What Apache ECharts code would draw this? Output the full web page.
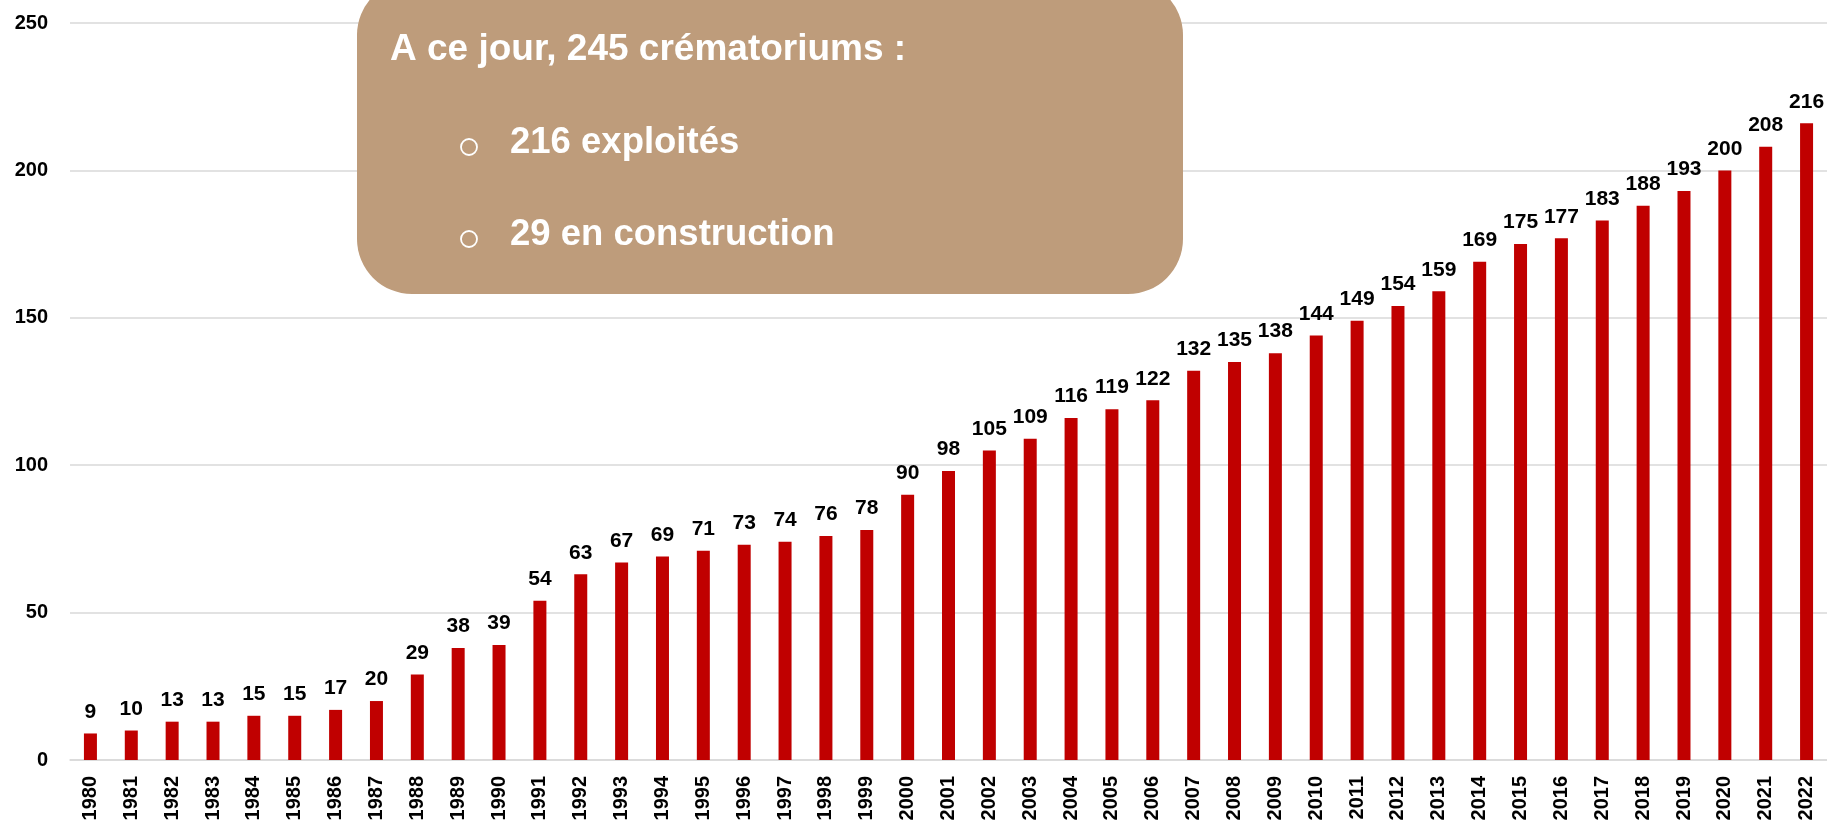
<!DOCTYPE html>
<html>
<head>
<meta charset="utf-8">
<script src="https://cdn.jsdelivr.net/npm/echarts@6/dist/echarts.min.js"></script>
<style>
html,body{margin:0;padding:0;background:#fff;}
#c{width:1827px;height:824px;}
</style>
</head>
<body>
<div id="c"></div>
<script>
const years = ['1980','1981','1982','1983','1984','1985','1986','1987','1988','1989','1990','1991','1992','1993','1994','1995','1996','1997','1998','1999','2000','2001','2002','2003','2004','2005','2006','2007','2008','2009','2010','2011','2012','2013','2014','2015','2016','2017','2018','2019','2020','2021','2022'];
const crematoriums = [9,10,13,13,15,15,17,20,29,38,39,54,63,67,69,71,73,74,76,78,90,98,105,109,116,119,122,132,135,138,144,149,154,159,169,175,177,183,188,193,200,208,216];
const yTicks = [0,50,100,150,200,250];
const noteTitle = 'A ce jour, 245 crématoriums :';
const noteItems = ['216 exploités','29 en construction'];

const FONT = '"Liberation Sans", Arial, sans-serif';
const chart = echarts.init(document.getElementById('c'), null, {renderer:'canvas'});
const itemY = [143, 235];
const graphics = [
  {type:'rect', z:100, shape:{x:357,y:-20,width:826,height:314,r:55}, style:{fill:'#BE9C7B'}},
  {type:'text', z:101, style:{x:390,y:50,text:noteTitle,fill:'#fff',font:'bold 37px '+FONT,verticalAlign:'middle'}}
];
noteItems.forEach((t,i)=>{
  graphics.push({type:'circle', z:101, shape:{cx:469,cy:itemY[i]+4,r:8}, style:{fill:'none',stroke:'#fff',lineWidth:1.8}});
  graphics.push({type:'text', z:101, style:{x:510,y:itemY[i],text:t,fill:'#fff',font:'bold 36.5px '+FONT,verticalAlign:'middle'}});
});

chart.setOption({
  animation:false,
  grid:{left:70,right:0,top:23,bottom:64,containLabel:false},
  xAxis:{
    type:'category', data:years,
    axisLine:{lineStyle:{color:'#D9D9D9',width:1.5}},
    axisTick:{show:false},
    axisLabel:{rotate:90,interval:0,margin:16,color:'#000',fontWeight:'bold',fontSize:20,fontFamily:FONT}
  },
  yAxis:{
    type:'value', min:yTicks[0], max:yTicks[yTicks.length-1], interval:50,
    axisLine:{show:false}, axisTick:{show:false},
    splitLine:{lineStyle:{color:'#D9D9D9',width:1.5}},
    axisLabel:{margin:22,color:'#000',fontWeight:'bold',fontSize:20,fontFamily:FONT}
  },
  series:[{
    type:'bar', data:crematoriums, barWidth:13,
    itemStyle:{color:'#C00000'},
    label:{show:true,position:'top',distance:11,color:'#000',fontWeight:'bold',fontSize:21,fontFamily:FONT}
  }],
  graphic:graphics
});
</script>
</body>
</html>
